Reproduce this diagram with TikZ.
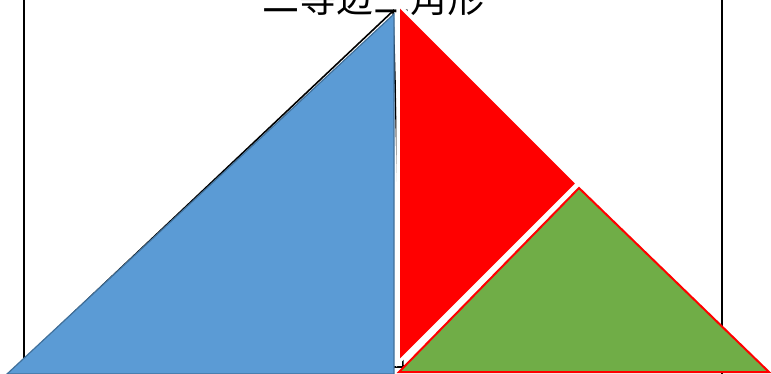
\documentclass[tikz,border=0pt]{standalone}
\usepackage{fontspec}
\newfontfamily\jpfont{Noto Sans CJK JP}
\definecolor{blueFill}{HTML}{5B9BD5}
\definecolor{blueLine}{HTML}{41719C}
\definecolor{greenFill}{HTML}{70AD47}
\begin{document}
\begin{tikzpicture}[x=1pt,y=-1pt,
  frameline/.style={black,line width=2pt},
  outline/.style={black,line width=1.6pt,line join=miter},
  bluetri/.style={fill=blueFill,draw=blueLine,line width=1.2pt},
  redtri/.style={fill=red,draw=white,line width=3.5pt},
  greentri/.style={fill=greenFill,draw=red,line width=2pt},
  titletext/.style={font=\jpfont\fontsize{37}{40}\selectfont,inner sep=0pt,anchor=base}]
\useasboundingbox (0,0) rectangle (771,374);
% frame
\coordinate (fl1) at (24,0); \coordinate (fl2) at (24,374);
\coordinate (fr1) at (722,0); \coordinate (fr2) at (722,374);
\draw[frameline] (fl1) -- (fl2);
\draw[frameline] (fr1) -- (fr2);
% title
\node[titletext] (title) at (373,13) {二等辺三角形};
% black isosceles outline (mostly hidden)
\coordinate (bA) at (393,11);
\coordinate (bL) at (16,367);
\coordinate (bR) at (403,367);
\draw[outline] (bL) -- (bA) -- (bR) -- cycle;
% blue right triangle
\coordinate (uL) at (7,374);
\coordinate (uT) at (394,14);
\coordinate (uB) at (394,374);
\draw[bluetri] (uL) -- (uT) -- (uB) -- cycle;
% red triangle
\coordinate (rT) at (398,4);
\coordinate (rB) at (398,363);
\coordinate (rR) at (577.5,183.5);
\draw[redtri] (rT) -- (rR) -- (rB) -- cycle;
% green triangle
\coordinate (gL) at (399,372);
\coordinate (gT) at (579,188);
\coordinate (gR) at (769,372);
\draw[greentri] (gL) -- (gT) -- (gR) -- cycle;
\end{tikzpicture}
\end{document}
